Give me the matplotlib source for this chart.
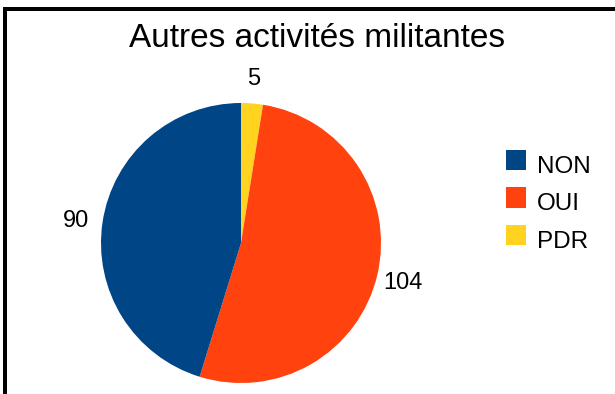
import matplotlib
matplotlib.use("Agg")
import matplotlib.pyplot as plt
from matplotlib.lines import Line2D
from matplotlib.patches import Rectangle

plt.rcParams['font.family'] = ['Liberation Sans', 'DejaVu Sans']

title = "Autres activités militantes"
categories = ["PDR", "OUI", "NON"]
values = [5, 104, 90]
colors = ["#FFD320", "#FF420E", "#004586"]
legend_order = ["NON", "OUI", "PDR"]

W, H = 615, 394
fig = plt.figure(figsize=(W / 100, H / 100), dpi=100)

# pie axes: centre (241, 243) px from top-left, radius 140 px
cx, cy, r = 241, 243, 140
ax = fig.add_axes([(cx - r) / W, (H - cy - r) / H, 2 * r / W, 2 * r / H])
wedges, texts = ax.pie(values, colors=colors, startangle=90, counterclock=False,
                       labels=[str(v) for v in values], labeldistance=1.19,
                       textprops=dict(fontsize=17, color="black"))
for t in texts:
    t.set_ha("center")
    t.set_va("center_baseline")
ax.set_xlim(-1, 1)
ax.set_ylim(-1, 1)
ax.set_aspect("equal")

# title
fig.text(317.5 / W, (H - 47) / H, title, ha="center", va="baseline", fontsize=24)

# legend: colour square + label per row
color_of = dict(zip(categories, colors))
sq = 20
for i, name in enumerate(legend_order):
    top = 150 + i * 37.5
    fig.add_artist(Rectangle((506 / W, (H - top - sq) / H), sq / W, sq / H,
                             transform=fig.transFigure, facecolor=color_of[name],
                             edgecolor="none"))
    fig.text(537 / W, (H - (top + 23)) / H, name, ha="left", va="baseline",
             fontsize=17.5)

# frame lines (left and top)
lw = 4 * 72 / 100
fig.add_artist(Line2D([5 / W, 5 / W, 1.01], [-0.01, (H - 9) / H, (H - 9) / H],
                      transform=fig.transFigure, color="black", linewidth=lw,
                      solid_joinstyle="miter"))

fig.savefig("out.png", dpi=100)
